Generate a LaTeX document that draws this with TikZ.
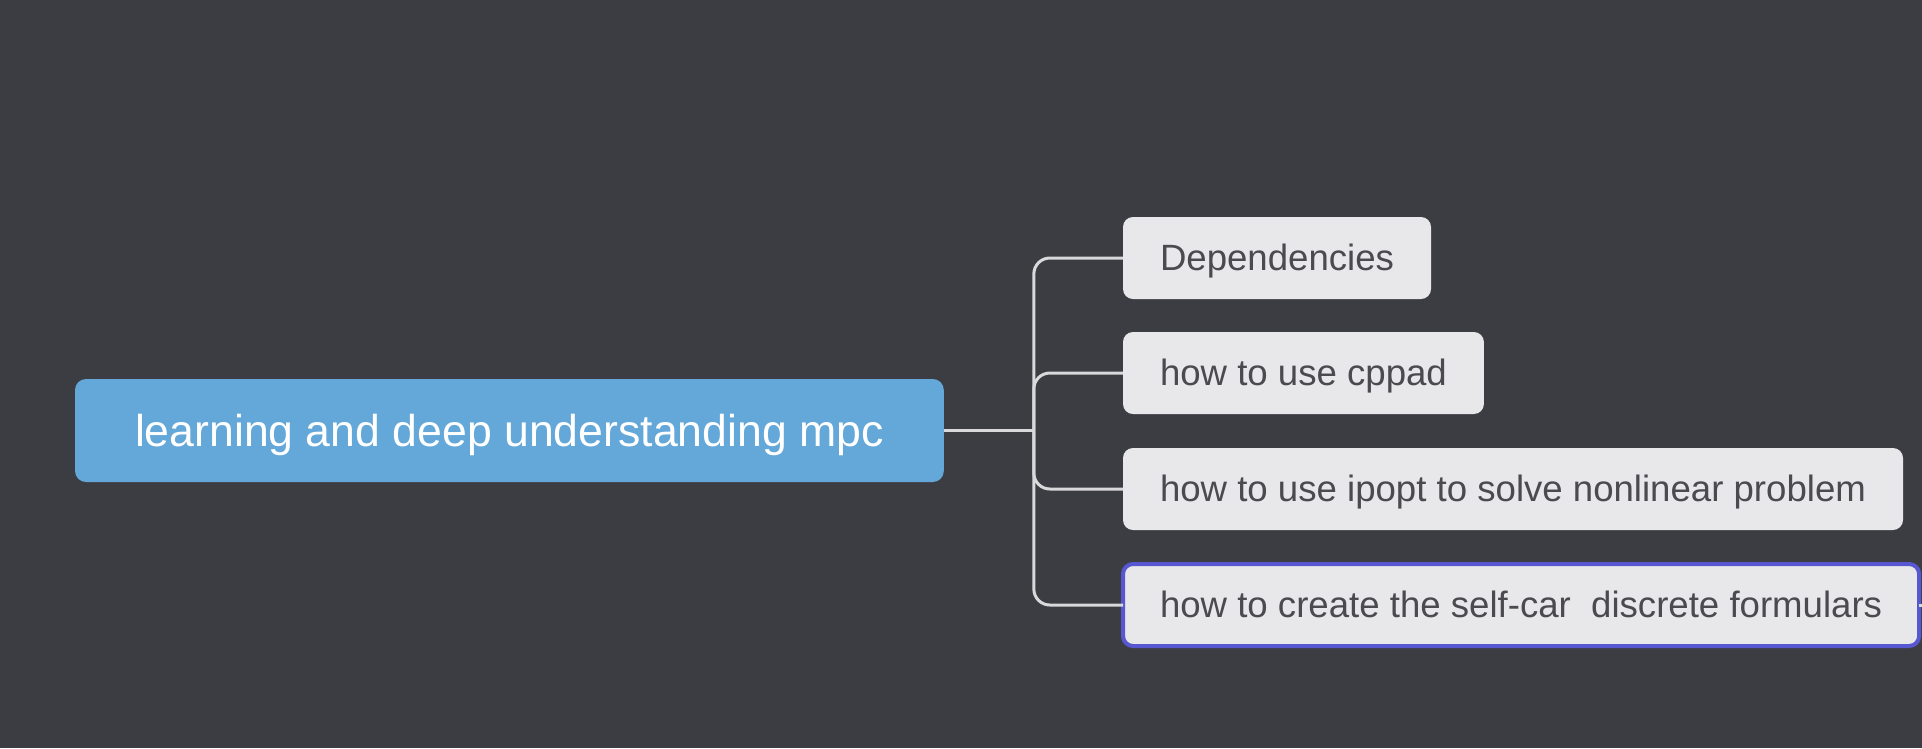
\documentclass[tikz,border=0pt]{standalone}
\usepackage{fontspec}
\setmainfont{Liberation Sans}
\usetikzlibrary{positioning}
\definecolor{bgdark}{HTML}{3C3D43}
\definecolor{rootblue}{HTML}{64A8D9}
\definecolor{leafgray}{HTML}{E8E8EA}
\definecolor{leaftext}{HTML}{4A4A4F}
\definecolor{linegray}{HTML}{D9D9DB}
\definecolor{selblue}{HTML}{5757D2}
\tikzset{
  rootbox/.style={fill=rootblue, text=white, rounded corners=11pt, outer sep=0pt,
    minimum height=103pt, inner xsep=60pt, text height=33.5pt, text depth=2.5pt,
    font=\fontsize{44.6}{53}\selectfont},
  leaf/.style={fill=leafgray, text=leaftext, rounded corners=10pt, outer sep=0pt,
    minimum height=82pt, inner xsep=37pt, text height=27.5pt, text depth=3pt,
    font=\fontsize{36.6}{44}\selectfont},
  picked/.style={draw=selblue, line width=4pt},
  branch/.style={draw=linegray, line width=3pt, rounded corners=16pt,
    to path={|- (\tikztotarget)}}
}

\begin{document}
\begin{tikzpicture}[x=1pt,y=1pt]
                   \fill[bgdark] (0,0) rectangle (1922,-748);
                   \useasboundingbox (0,0) rectangle (1922,-748);
                   \node[rootbox,anchor=west] (t_root) at (75,-430.5) {learning and deep understanding mpc};
                   \coordinate[right=90pt of t_root.east] (t_hub);
                   \node[leaf,anchor=west] (t_deps) at (1123,-258) {Dependencies};
                   \node[leaf,below=33pt of t_deps.south west,anchor=north west] (t_cppad) {how to use cppad};
                   \node[leaf,below=34pt of t_cppad.south west,anchor=north west] (t_ipopt) {how to use ipopt to solve nonlinear problem};
                   \node[leaf,picked,below=34pt of t_ipopt.south west,anchor=north west] (t_car) {how to create the self-car\ \ discrete formulars};
                    \draw[linegray,line width=3pt] (t_root.east) -- (t_hub);
                    \path[branch]
                    (t_hub) edge (t_deps.west)
                            edge (t_cppad.west)
                            edge (t_ipopt.west)
                            edge (t_car.west);
                    \draw[linegray,line width=3pt] (t_car.east) -- ++(8,0);
                \end{tikzpicture}
\end{document}
